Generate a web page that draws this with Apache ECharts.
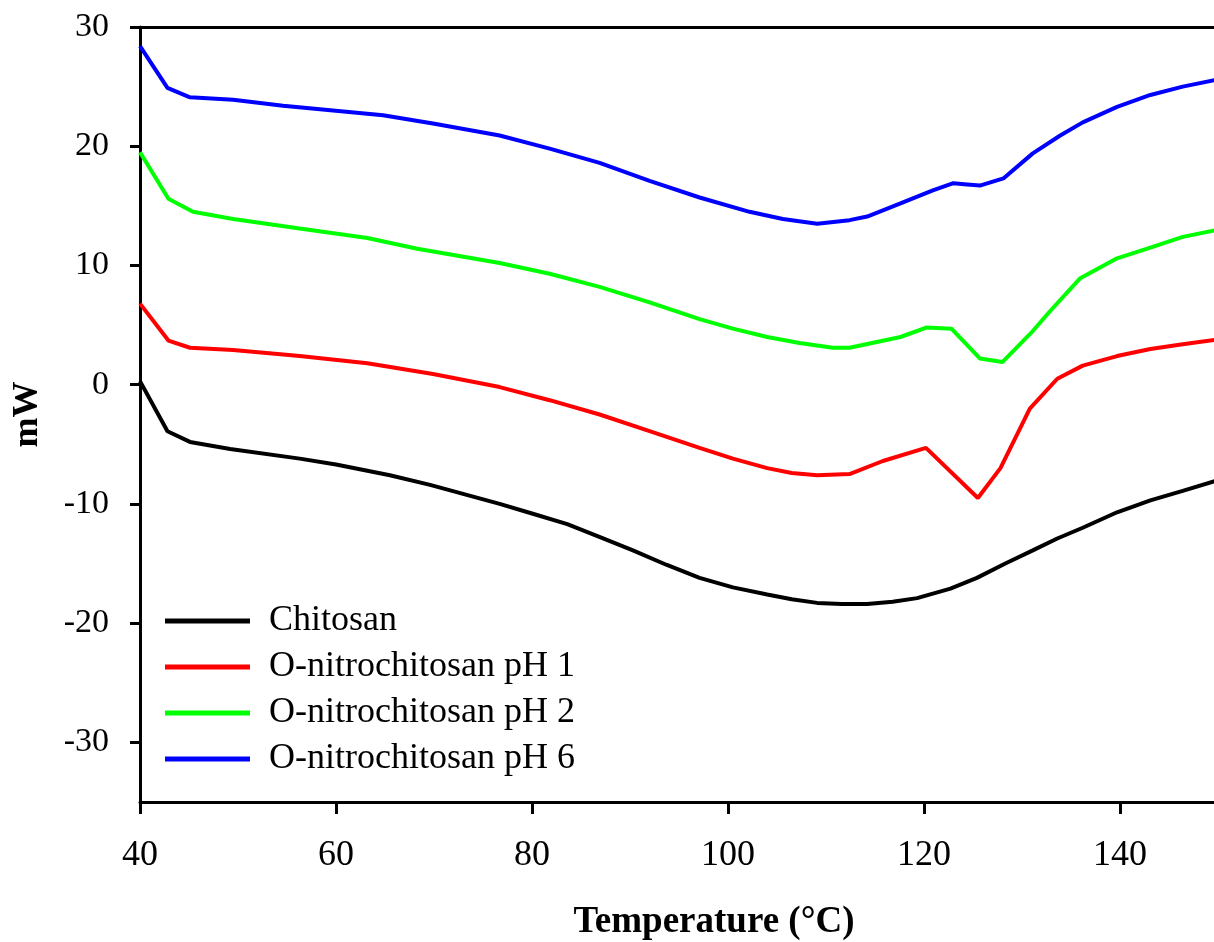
<!DOCTYPE html>
<html>
<head>
<meta charset="utf-8">
<script src="https://cdn.jsdelivr.net/npm/echarts@6/dist/echarts.min.js"></script>
<style>
html,body{margin:0;padding:0;background:#fff;}
#chart{width:1214px;height:942px;}
</style>
</head>
<body>
<div id="chart"></div>
<script>
// Data (Temperature °C, mW)
const chitosanT  = [40, 42.8, 45.1, 49.2, 56.3, 60, 65.5, 69.6, 76.7, 80, 83.6, 87, 90.3, 93.7, 97.1, 100.5, 104.0, 106.5, 109.1, 111.6, 114.2, 116.8, 119.3, 122.7, 125.4, 128.3, 131.1, 133.6, 136.2, 139.7, 143.1, 146.4, 150];
const chitosanMW = [0.3, -3.9, -4.8, -5.4, -6.2, -6.7, -7.6, -8.4, -10.0, -10.8, -11.7, -12.8, -13.9, -15.1, -16.2, -17.0, -17.6, -18.0, -18.3, -18.4, -18.4, -18.2, -17.9, -17.1, -16.2, -15.0, -13.9, -12.9, -12.0, -10.7, -9.7, -8.9, -8.0];

const ph1T  = [40, 42.9, 45.1, 49.5, 56.3, 63.2, 69.9, 76.7, 81.8, 86.9, 92.0, 97.1, 100.5, 104.0, 106.5, 109.1, 112.4, 115.8, 120.2, 125.5, 127.8, 130.8, 133.6, 136.2, 139.7, 143.1, 146.4, 150];
const ph1MW = [6.8, 3.7, 3.1, 2.9, 2.4, 1.8, 0.9, -0.2, -1.3, -2.5, -3.9, -5.3, -6.2, -7.0, -7.4, -7.6, -7.5, -6.4, -5.3, -9.5, -7.0, -2.0, 0.5, 1.6, 2.4, 3.0, 3.4, 3.8];

const ph2T  = [40, 42.9, 45.4, 49.5, 56.3, 63.2, 68.3, 76.7, 81.8, 86.9, 92.0, 97.1, 100.5, 104.0, 107.3, 110.7, 112.4, 117.6, 120.3, 122.8, 125.7, 128.0, 131.1, 132.9, 135.9, 139.7, 143.1, 146.4, 150];
const ph2MW = [19.5, 15.6, 14.5, 13.9, 13.1, 12.3, 11.4, 10.2, 9.3, 8.2, 6.9, 5.5, 4.7, 4.0, 3.5, 3.1, 3.1, 4.0, 4.8, 4.7, 2.2, 1.9, 4.5, 6.2, 8.9, 10.6, 11.5, 12.4, 13.0];

const ph6T  = [40, 42.8, 45.1, 49.5, 54.6, 59.7, 64.8, 69.9, 76.7, 81.8, 86.9, 92.0, 97.1, 102.2, 105.6, 109.1, 112.4, 114.2, 117.6, 120.9, 123.0, 124.4, 125.7, 128.1, 131.1, 133.9, 136.2, 139.7, 143.1, 146.4, 150];
const ph6MW = [28.4, 24.9, 24.1, 23.9, 23.4, 23.0, 22.6, 21.9, 20.9, 19.8, 18.6, 17.1, 15.7, 14.5, 13.9, 13.5, 13.8, 14.1, 15.2, 16.3, 16.9, 16.8, 16.7, 17.3, 19.4, 20.9, 22.0, 23.3, 24.3, 25.0, 25.6];

const seriesNames = ['Chitosan', 'O-nitrochitosan pH 1', 'O-nitrochitosan pH 2', 'O-nitrochitosan pH 6'];
const seriesColors = ['#000000', '#ff0000', '#00ff00', '#0000ff'];
const xTicks = [40, 60, 80, 100, 120, 140];
const yTicks = [-30, -20, -10, 0, 10, 20, 30];

const zip = (a, b) => a.map((t, i) => [t, b[i]]);
const allData = [zip(chitosanT, chitosanMW), zip(ph1T, ph1MW), zip(ph2T, ph2MW), zip(ph6T, ph6MW)];

const FONT = '"Liberation Serif", "Times New Roman", serif';
const chart = echarts.init(document.getElementById('chart'), null, {renderer: 'canvas'});

chart.setOption({
  animation: false,
  backgroundColor: '#ffffff',
  grid: {left: 140, right: -4, top: 27, bottom: 140, containLabel: false, outerBoundsMode: 'none'},
  legend: {
    orient: 'vertical',
    left: 165,
    top: 603,
    padding: 0,
    icon: 'rect',
    itemWidth: 85,
    itemHeight: 5,
    itemGap: 10,
    textStyle: {fontFamily: FONT, fontSize: 36, color: '#000', padding: [0, 0, 0, 14]},
    data: seriesNames
  },
  xAxis: [{
    type: 'value',
    min: 40,
    max: 150,
    interval: 20,
    name: 'Temperature (°C)',
    nameLocation: 'middle',
    nameGap: 102,
    nameTextStyle: {fontFamily: FONT, fontSize: 37, fontWeight: 'bold', color: '#000', padding: [0, 0, 0, 70]},
    axisLine: {onZero: false, lineStyle: {color: '#000', width: 3}},
    axisTick: {length: 12, lineStyle: {color: '#000', width: 3}},
    axisLabel: {
      fontFamily: FONT, fontSize: 36, color: '#000', margin: 36, showMaxLabel: false,
      formatter: v => xTicks.includes(v) ? String(v) : ''
    },
    splitLine: {show: false}
  }, {
    type: 'value',
    position: 'top',
    min: 40,
    max: 150,
    axisLine: {show: true, onZero: false, lineStyle: {color: '#000', width: 3}},
    axisTick: {show: false},
    axisLabel: {show: false},
    splitLine: {show: false}
  }],
  yAxis: {
    type: 'value',
    min: -35,
    max: 30,
    splitNumber: 7,
    name: 'mW',
    nameLocation: 'middle',
    nameGap: 94,
    nameRotate: 90,
    nameTextStyle: {fontFamily: FONT, fontSize: 36, fontWeight: 'bold', color: '#000'},
    axisLine: {show: true, onZero: false, lineStyle: {color: '#000', width: 3}},
    axisTick: {length: 10, lineStyle: {color: '#000', width: 3}},
    axisLabel: {
      fontFamily: FONT, fontSize: 34, color: '#000', margin: 31, showMinLabel: false,
      formatter: v => yTicks.includes(v) ? String(v) : ''
    },
    splitLine: {show: false}
  },
  series: seriesNames.map((name, i) => ({
    name: name,
    type: 'line',
    xAxisIndex: 0,
    data: allData[i],
    showSymbol: false,
    symbol: 'none',
    lineStyle: {color: seriesColors[i], width: 4},
    itemStyle: {color: seriesColors[i]}
  }))
});
</script>
</body>
</html>
